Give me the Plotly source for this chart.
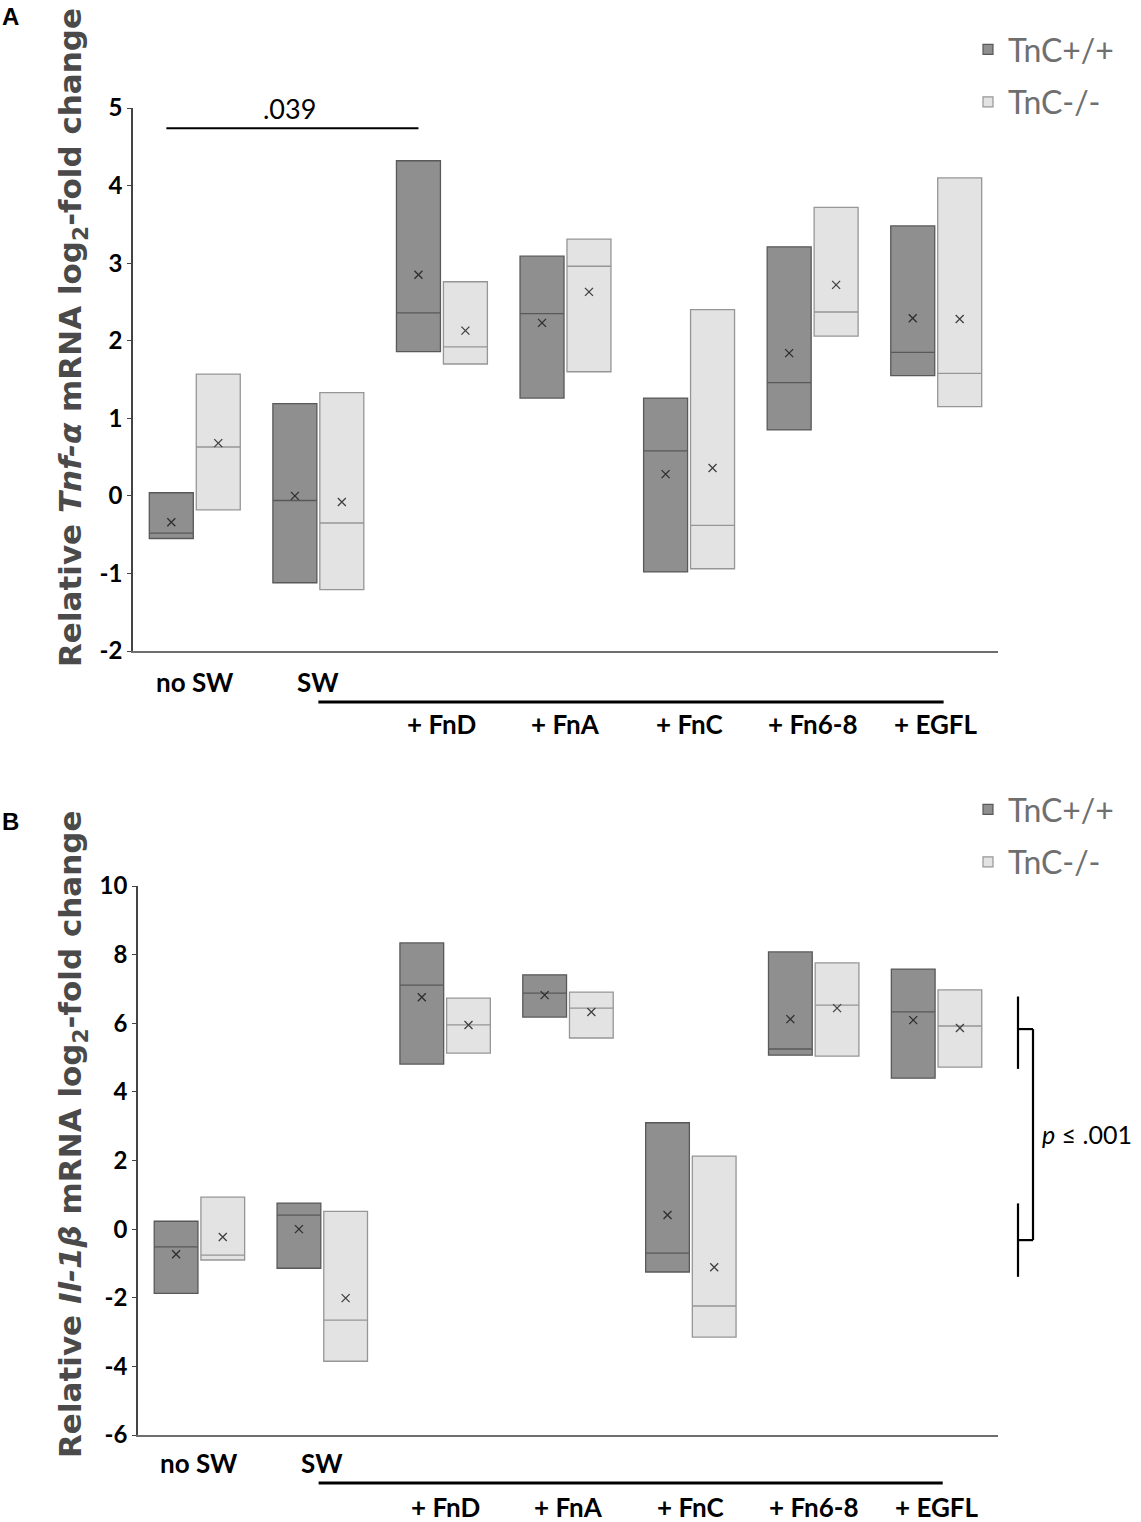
import plotly.graph_objects as go

# ---------------- data ----------------
categories = ["no SW", "SW", "+ FnD", "+ FnA", "+ FnC", "+ Fn6-8", "+ EGFL"]
series_names = ["TnC+/+", "TnC-/-"]

# Panel A: Tnf-a (log2 fold change)
a_wt_low = [-0.55, -1.12, 1.86, 1.26, -0.98, 0.85, 1.55]
a_wt_high = [0.04, 1.19, 4.32, 3.09, 1.26, 3.21, 3.48]
a_wt_med = [-0.48, -0.06, 2.36, 2.35, 0.58, 1.46, 1.85]
a_wt_mean = [-0.34, 0.00, 2.85, 2.23, 0.28, 1.84, 2.29]
a_ko_low = [-0.18, -1.21, 1.70, 1.60, -0.94, 2.06, 1.15]
a_ko_high = [1.57, 1.33, 2.76, 3.31, 2.40, 3.72, 4.10]
a_ko_med = [0.63, -0.35, 1.92, 2.96, -0.38, 2.37, 1.58]
a_ko_mean = [0.68, -0.08, 2.13, 2.63, 0.36, 2.72, 2.28]
a_ticks = [-2, -1, 0, 1, 2, 3, 4, 5]

# Panel B: Il-1b (log2 fold change)
b_wt_low = [-1.87, -1.14, 4.81, 6.18, -1.25, 5.07, 4.40]
b_wt_high = [0.23, 0.76, 8.34, 7.41, 3.10, 8.08, 7.58]
b_wt_med = [-0.52, 0.41, 7.11, 6.88, -0.70, 5.25, 6.33]
b_wt_mean = [-0.73, 0.00, 6.76, 6.82, 0.41, 6.12, 6.09]
b_ko_low = [-0.90, -3.85, 5.13, 5.57, -3.15, 5.04, 4.72]
b_ko_high = [0.93, 0.52, 6.73, 6.91, 2.13, 7.76, 6.97]
b_ko_med = [-0.76, -2.65, 5.95, 6.44, -2.24, 6.53, 5.92]
b_ko_mean = [-0.23, -2.01, 5.95, 6.33, -1.11, 6.44, 5.86]
b_ticks = [-6, -4, -2, 0, 2, 4, 6, 8, 10]

# significance annotations
a_sig_text = ".039"
a_sig_x = [-0.23, 1.81]
a_sig_y = 4.74
b_sig_text = "<i>p</i> ≤ .001"
b_upper = [6.78, 4.67, 5.83]   # top, bottom, tick
b_lower = [0.75, -1.39, -0.32]

# ---------------- style ----------------
FONT = "Lato"
TITLE_FONT = "DejaVu Sans"
DARK_FILL, DARK_LINE = "#8f8f8f", "#595959"
LIGHT_FILL, LIGHT_LINE = "#e3e3e3", "#969696"
BOX_W = 0.356
OFF = 0.19
W, H = 1141, 1522


def px_x(p):
    return p / W


def px_y(p):
    return 1 - p / H


fig = go.Figure()

panels = [
    dict(xa="x", ya="y", data=[(a_wt_low, a_wt_high, a_wt_med, a_wt_mean),
                               (a_ko_low, a_ko_high, a_ko_med, a_ko_mean)], legend="legend"),
    dict(xa="x2", ya="y2", data=[(b_wt_low, b_wt_high, b_wt_med, b_wt_mean),
                                 (b_ko_low, b_ko_high, b_ko_med, b_ko_mean)], legend="legend2"),
]

styles = [(DARK_FILL, DARK_LINE, -OFF, "#2e2e2e"), (LIGHT_FILL, LIGHT_LINE, OFF, "#404040")]

for p in panels:
    for s_idx, (low, high, med, mean) in enumerate(p["data"]):
        fill, line, off, mcol = styles[s_idx]
        xs = [i + off for i in range(len(categories))]
        fig.add_trace(go.Box(
            x=xs, q1=low, q3=high, median=med, lowerfence=low, upperfence=high,
            width=BOX_W, whiskerwidth=0, fillcolor=fill,
            line=dict(color=line, width=1.3),
            xaxis=p["xa"], yaxis=p["ya"], showlegend=False, hoverinfo="skip",
        ))
        fig.add_trace(go.Scatter(
            x=xs, y=mean, mode="markers",
            marker=dict(symbol="x-thin", size=8, line=dict(width=1.3, color=mcol)),
            xaxis=p["xa"], yaxis=p["ya"], showlegend=False, hoverinfo="skip",
        ))
    for s_idx, name in enumerate(series_names):
        fill, line, off, mcol = styles[s_idx]
        fig.add_trace(go.Scatter(
            x=[None], y=[None], mode="markers", name=name,
            marker=dict(symbol="square", size=10, color=fill, line=dict(color=line, width=1.2)),
            xaxis=p["xa"], yaxis=p["ya"], legend=p["legend"], legendgroup=p["legend"] + name,
            showlegend=True,
        ))

axis_common_x = dict(range=[-0.5, 6.5], showline=True, linecolor="#6e6e6e", linewidth=1.5,
                     showticklabels=False, ticks="", showgrid=False, zeroline=False,
                     fixedrange=True, automargin=False)
axis_common_y = dict(showline=True, linecolor="#444444", linewidth=1.5, ticks="outside",
                     ticklen=4, tickcolor="#444444", showgrid=False, zeroline=False,
                     automargin=False,
                     tickfont=dict(family=FONT, size=24, color="black", weight="bold"))

legend_common = dict(font=dict(family=FONT, size=32, color="#6f6f6f"), bgcolor="rgba(0,0,0,0)",
                     xanchor="left", yanchor="top", itemwidth=30, tracegroupgap=8,
                     itemclick=False, itemdoubleclick=False)

fig.update_layout(
    width=W, height=H, paper_bgcolor="white", plot_bgcolor="white",
    margin=dict(l=0, r=0, t=0, b=0, autoexpand=False),
    xaxis=dict(domain=[px_x(133), px_x(998)], anchor="y", **axis_common_x),
    yaxis=dict(domain=[px_y(651), px_y(108)], anchor="x", range=[-2, 5],
               tickvals=a_ticks, ticktext=[str(v) for v in a_ticks], **axis_common_y),
    xaxis2=dict(domain=[px_x(138), px_x(998)], anchor="y2", **axis_common_x),
    yaxis2=dict(domain=[px_y(1435), px_y(886)], anchor="x2", range=[-6, 10],
                tickvals=b_ticks, ticktext=[str(v) for v in b_ticks], **axis_common_y),
    legend=dict(x=px_x(968), y=px_y(22), **legend_common),
    legend2=dict(x=px_x(968), y=px_y(782), **legend_common),
    showlegend=True,
)

annotations = []
shapes = []

# panel letters
annotations.append(dict(text="<b>A</b>", x=px_x(0), y=px_y(17), xref="paper", yref="paper",
                        xanchor="left", yanchor="middle", showarrow=False,
                        font=dict(family="Liberation Sans", size=24, color="black")))
annotations.append(dict(text="<b>B</b>", x=px_x(0), y=px_y(821), xref="paper", yref="paper",
                        xanchor="left", yanchor="middle", showarrow=False,
                        font=dict(family="Liberation Sans", size=24, color="black")))

# y titles
annotations.append(dict(text="<b>Relative <i>Tnf-α</i> mRNA log<sub>2</sub>-fold change</b>",
                        x=px_x(72), y=px_y(338), xref="paper", yref="paper", textangle=-90,
                        showarrow=False, xanchor="center", yanchor="middle",
                        font=dict(family=TITLE_FONT, size=31, color="#4a4a4a")))
annotations.append(dict(text="<b>Relative <i>Il-1β</i> mRNA log<sub>2</sub>-fold change</b>",
                        x=px_x(72), y=px_y(1134), xref="paper", yref="paper", textangle=-90,
                        showarrow=False, xanchor="center", yanchor="middle",
                        font=dict(family=TITLE_FONT, size=31, color="#4a4a4a")))

# category labels
for xref, row1_y, row2_y, line_y, line_x in [("x", 682, 724, 702, (1.0, 6.06)),
                                              ("x2", 1463, 1507, 1483, (0.97, 6.05))]:
    for i, c in enumerate(categories):
        yy = row1_y if i < 2 else row2_y
        annotations.append(dict(text="<b>%s</b>" % c, x=i, y=px_y(yy), xref=xref, yref="paper",
                                showarrow=False, xanchor="center", yanchor="middle",
                                font=dict(family=FONT, size=26, color="black")))
    shapes.append(dict(type="line", xref=xref, yref="paper", x0=line_x[0], x1=line_x[1],
                       y0=px_y(line_y), y1=px_y(line_y), line=dict(color="black", width=3)))

# significance panel A
shapes.append(dict(type="line", xref="x", yref="y", x0=a_sig_x[0], x1=a_sig_x[1],
                   y0=a_sig_y, y1=a_sig_y, line=dict(color="black", width=2)))
annotations.append(dict(text=a_sig_text, x=sum(a_sig_x) / 2 - 0.02, y=a_sig_y, xref="x", yref="y",
                        yanchor="bottom", xanchor="center", yshift=1, showarrow=False,
                        font=dict(family=FONT, size=27, color="black")))

# significance panel B (bracket)
xa_, xb_ = px_x(1018), px_x(1033)
for top, bot, tick in (b_upper, b_lower):
    shapes.append(dict(type="line", xref="paper", yref="y2", x0=xa_, x1=xa_, y0=bot, y1=top,
                       line=dict(color="black", width=2.2)))
    shapes.append(dict(type="line", xref="paper", yref="y2", x0=xa_, x1=xb_, y0=tick, y1=tick,
                       line=dict(color="black", width=2.2)))
shapes.append(dict(type="line", xref="paper", yref="y2", x0=xb_, x1=xb_, y0=b_lower[2], y1=b_upper[2],
                   line=dict(color="black", width=2.2)))
annotations.append(dict(text=b_sig_text, x=px_x(1040), y=px_y(1134), xref="paper", yref="paper",
                        xanchor="left", yanchor="middle", showarrow=False,
                        font=dict(family=FONT, size=25, color="black")))

fig.update_layout(annotations=annotations, shapes=shapes)

fig.write_html("out.html", config={"displayModeBar": False},
               post_script="document.body.style.margin='0px';document.body.style.padding='0px';")
